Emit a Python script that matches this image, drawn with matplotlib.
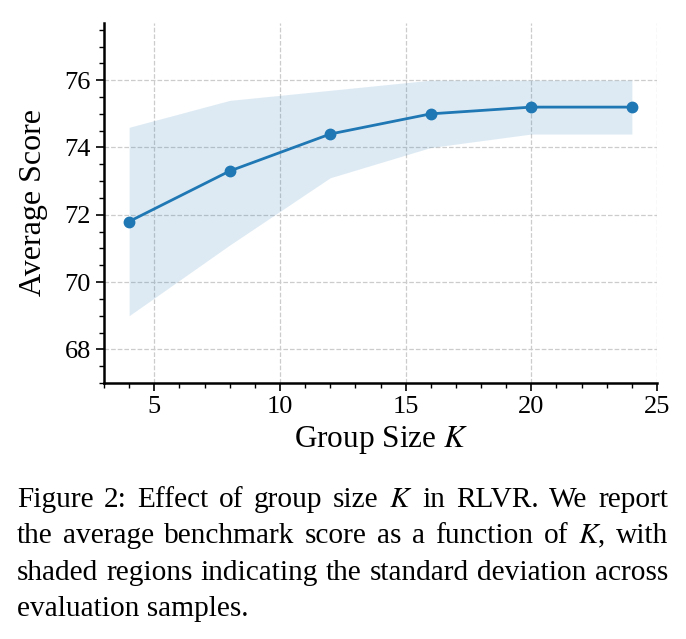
import matplotlib
matplotlib.use("Agg")
import matplotlib.pyplot as plt
from matplotlib.ticker import MultipleLocator

plt.rcParams['font.family'] = ['Liberation Serif', 'DejaVu Serif']
plt.rcParams['mathtext.fontset'] = 'stix'

group_sizes = [4, 8, 12, 16, 20, 24]
avg_score = [71.8, 73.3, 74.4, 75.0, 75.2, 75.2]
band_lower = [69.0, 71.1, 73.1, 74.0, 74.4, 74.4]
band_upper = [74.6, 75.4, 75.7, 76.0, 76.0, 76.0]
x_ticks = [5, 10, 15, 20, 25]
y_ticks = [68, 70, 72, 74, 76]
caption_lines = [
    "Figure 2: Effect of group size $K$ in RLVR. We report",
    "the average benchmark score as a function of $K$, with",
    "shaded regions indicating the standard deviation across",
    "evaluation samples.",
]

W, H = 686, 639
fig = plt.figure(figsize=(W / 100, H / 100), dpi=100)
ax = fig.add_axes([104 / W, 1 - 383 / H, (657 - 104) / W, (383 - 23) / H])

color = '#1f77b4'
ax.fill_between(group_sizes, band_lower, band_upper, color=color, alpha=0.15, linewidth=0)
ax.plot(group_sizes, avg_score, color=color, linewidth=2, marker='o', markersize=7.5)

ax.set_xlim(3, 25)
ax.set_ylim(67, 77.7)
ax.set_xticks(x_ticks)
ax.set_yticks(y_ticks)
ax.xaxis.set_minor_locator(MultipleLocator(1))
ax.yaxis.set_minor_locator(MultipleLocator(0.5))
ax.tick_params(which='major', direction='out', length=6, width=1.2, labelsize=19)
ax.tick_params(which='minor', direction='out', length=3.5, width=1)
ax.grid(True, which='major', linestyle='--', color='#cccccc', linewidth=0.9)
ax.set_axisbelow(True)
for s in ['top', 'right']:
    ax.spines[s].set_visible(False)
for s in ['left', 'bottom']:
    ax.spines[s].set_linewidth(1.8)

ax.set_xlabel("Group Size $K$", fontsize=22.5, labelpad=4)
ax.set_ylabel("Average Score", fontsize=23, labelpad=12)

# justified caption
renderer = fig.canvas.get_renderer()
left_px, right_px = 17, 668
baselines = [507, 543, 580, 616]
fs = 21.2
for i, line in enumerate(caption_lines):
    y = 1 - baselines[i] / H
    words = line.split(' ')
    if i == len(caption_lines) - 1:
        fig.text(left_px / W, y, line, fontsize=fs, ha='left', va='baseline')
        continue
    texts = [fig.text(0, y, w, fontsize=fs, ha='left', va='baseline') for w in words]
    widths = [t.get_window_extent(renderer).width for t in texts]
    gap = (right_px - left_px - sum(widths)) / (len(words) - 1)
    x = left_px
    for t, w in zip(texts, widths):
        t.set_x(x / W)
        x += w + gap

fig.savefig("out.png", dpi=100)
